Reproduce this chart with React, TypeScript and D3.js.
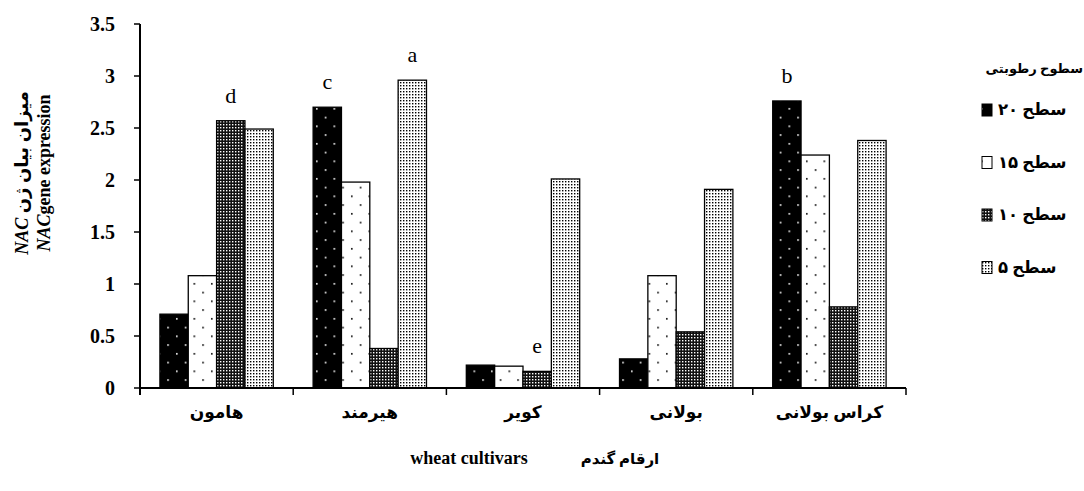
import React, { useEffect, useRef } from 'react';
import * as d3 from 'd3';

// wheat cultivars (x categories)
const cultivars = ['هامون', 'هیرمند', 'کویر', 'بولانی', 'کراس بولانی'];
// moisture levels (series)
const levels = ['سطح ۲۰', 'سطح ۱۵', 'سطح ۱۰', 'سطح ۵'];
const level20 = [0.71, 2.70, 0.22, 0.28, 2.76];
const level15 = [1.08, 1.98, 0.21, 1.08, 2.24];
const level10 = [2.57, 0.38, 0.16, 0.54, 0.78];
const level5 = [2.49, 2.96, 2.01, 1.91, 2.38];
const yTicks = [0, 0.5, 1, 1.5, 2, 2.5, 3, 3.5];
// significance letters: [cultivar index, level index, letter]
const letters: [number, number, string][] = [
  [0, 2, 'd'],
  [1, 0, 'c'],
  [1, 3, 'a'],
  [2, 2, 'e'],
  [4, 0, 'b'],
];

const seriesValues = [level20, level15, level10, level5];
const patternIds = ['p20', 'p15', 'p10', 'p5'];

const App: React.FC = () => {
  const ref = useRef<SVGSVGElement>(null);

  useEffect(() => {
    if (!ref.current) return;
    const svg = d3.select(ref.current);
    svg.selectAll('*').remove();

    const serif = '"Liberation Serif", "Times New Roman", "DejaVu Sans", serif';
    const left = 140;
    const right = 906;
    const top = 24;
    const bottom = 388;

    const x0 = d3.scaleBand<string>().domain(cultivars).range([left, right]);
    const bw = x0.bandwidth();
    const x1 = d3.scaleBand<string>().domain(levels).range([bw * 0.13, bw * 0.87]);
    const y = d3.scaleLinear().domain([0, 3.5]).range([bottom, top]);

    // fill patterns
    const defs = svg.append('defs');
    const sparse = (id: string, bg: string, dot: string) => {
      const p = defs.append('pattern').attr('id', id)
        .attr('patternUnits', 'userSpaceOnUse').attr('width', 17.5).attr('height', 17.5);
      p.append('rect').attr('width', 17.5).attr('height', 17.5).attr('fill', bg);
      p.append('rect').attr('x', 1).attr('y', 3).attr('width', 1.6).attr('height', 1.6).attr('fill', dot);
      p.append('rect').attr('x', 9.75).attr('y', 11.75).attr('width', 1.6).attr('height', 1.6).attr('fill', dot);
    };
    sparse('p20', '#000', '#fff');
    sparse('p15', '#fff', '#000');
    const p10 = defs.append('pattern').attr('id', 'p10')
      .attr('patternUnits', 'userSpaceOnUse').attr('width', 3).attr('height', 3);
    p10.append('rect').attr('width', 3).attr('height', 3).attr('fill', '#111');
    p10.append('rect').attr('x', 1).attr('y', 1).attr('width', 1.4).attr('height', 1.4).attr('fill', '#fff');
    const p5 = defs.append('pattern').attr('id', 'p5')
      .attr('patternUnits', 'userSpaceOnUse').attr('width', 3).attr('height', 3);
    p5.append('rect').attr('width', 3).attr('height', 3).attr('fill', '#fff');
    p5.append('rect').attr('x', 1).attr('y', 1).attr('width', 1.4).attr('height', 1.4).attr('fill', '#000');

    // bars
    cultivars.forEach((c, i) => {
      levels.forEach((l, j) => {
        const v = seriesValues[j][i];
        svg.append('rect')
          .attr('x', x0(c)! + x1(l)!)
          .attr('y', y(v))
          .attr('width', x1.bandwidth())
          .attr('height', bottom - y(v))
          .attr('fill', `url(#${patternIds[j]})`)
          .attr('stroke', '#000')
          .attr('stroke-width', 1.3);
      });
    });

    // letters
    letters.forEach(([i, j, t]) => {
      const v = seriesValues[j][i];
      svg.append('text')
        .attr('x', x0(cultivars[i])! + x1(levels[j])! + x1.bandwidth() / 2)
        .attr('y', y(v) - 18)
        .attr('text-anchor', 'middle')
        .style('font-family', serif)
        .style('font-size', '22px')
        .text(t);
    });

    // y axis
    svg.append('line').attr('x1', left).attr('x2', left).attr('y1', top).attr('y2', bottom + 7)
      .attr('stroke', '#000').attr('stroke-width', 2);
    yTicks.forEach(t => {
      svg.append('line').attr('x1', left - 6).attr('x2', left).attr('y1', y(t)).attr('y2', y(t))
        .attr('stroke', '#000').attr('stroke-width', 1.5);
      svg.append('text')
        .attr('x', left - 25).attr('y', y(t)).attr('dy', '0.35em')
        .attr('text-anchor', 'end')
        .style('font-family', serif).style('font-size', '20px').style('font-weight', 'bold')
        .text(t);
    });

    // x axis
    svg.append('line').attr('x1', left).attr('x2', right).attr('y1', bottom).attr('y2', bottom)
      .attr('stroke', '#000').attr('stroke-width', 2);
    cultivars.forEach((c, i) => {
      const xe = x0(c)! + bw;
      svg.append('line').attr('x1', xe).attr('x2', xe).attr('y1', bottom).attr('y2', bottom + 7)
        .attr('stroke', '#000').attr('stroke-width', 1.5);
      svg.append('text')
        .attr('x', x0(c)! + bw / 2).attr('y', 418)
        .attr('text-anchor', 'middle')
        .style('font-family', serif).style('font-size', '17px').style('font-weight', 'bold')
        .text(c);
    });

    // x title
    svg.append('text').attr('x', 469).attr('y', 464).attr('text-anchor', 'middle')
      .style('font-family', serif).style('font-size', '18px').style('font-weight', 'bold')
      .text('wheat cultivars');
    svg.append('text').attr('x', 620).attr('y', 464).attr('text-anchor', 'middle')
      .style('font-family', serif).style('font-size', '15px').style('font-weight', 'bold')
      .text('ارقام گندم');

    // y title (two rotated lines)
    const yt1 = svg.append('text').attr('transform', 'translate(28,173) rotate(-90)')
      .attr('text-anchor', 'middle')
      .style('font-family', serif).style('font-size', '18px').style('font-weight', 'bold');
    yt1.append('tspan').style('font-style', 'italic').text('NAC');
    yt1.append('tspan').text(' میزان بیان ژن');
    const yt2 = svg.append('text').attr('transform', 'translate(50,173) rotate(-90)')
      .attr('text-anchor', 'middle')
      .style('font-family', serif).style('font-size', '18px').style('font-weight', 'bold');
    yt2.append('tspan').style('font-style', 'italic').text('NAC');
    yt2.append('tspan').text('gene expression');

    // legend
    svg.append('text').attr('x', 1083).attr('y', 73).attr('text-anchor', 'end')
      .style('font-family', serif).style('font-size', '13px').style('font-weight', 'bold')
      .text('سطوح رطوبتی');
    levels.forEach((l, j) => {
      const ly = 104 + j * 52.5;
      svg.append('rect').attr('x', 982).attr('y', ly).attr('width', 10).attr('height', 12)
        .attr('fill', `url(#${patternIds[j]})`).attr('stroke', '#000').attr('stroke-width', 1);
      svg.append('text').attr('x', 998).attr('y', ly + 11)
        .style('font-family', serif).style('font-size', '16.5px').style('font-weight', 'bold')
        .text(l);
    });
  }, []);

  return (
    <svg ref={ref} width={1084} height={491}
      style={{ position: 'absolute', left: 0, top: 0, background: '#fff' }} />
  );
};

export default App;
